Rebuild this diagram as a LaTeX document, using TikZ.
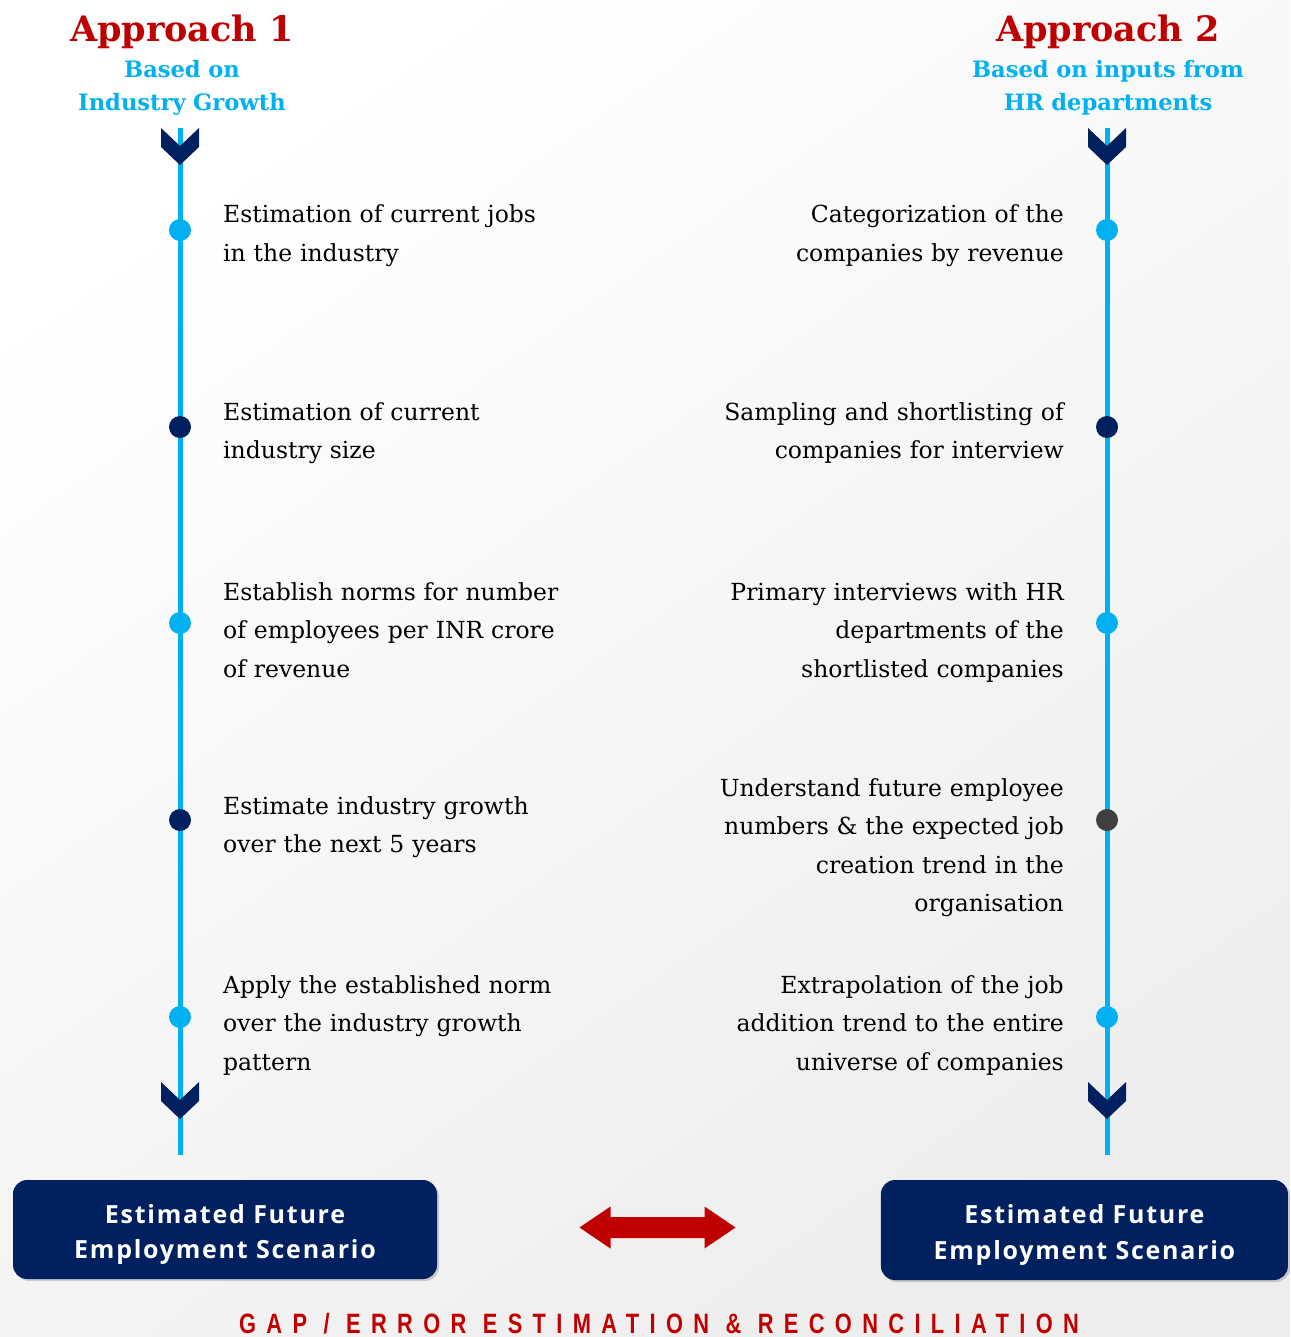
\documentclass[tikz,border=0pt]{standalone}
\usepackage{fontspec}
\setmainfont{DejaVu Serif}
\newfontfamily\boxfont[LetterSpace=7]{Open Sans}
\newfontfamily\gapfont[LetterSpace=37,FakeStretch=0.78]{Liberation Sans}
\usetikzlibrary{shadows}
\definecolor{skyblue}{HTML}{00B0F0}
\definecolor{navy}{HTML}{002060}
\definecolor{darkred}{HTML}{C00000}
\definecolor{slate}{HTML}{404040}

\begin{document}
\begin{tikzpicture}[x=1pt, y=-1pt,
	dotnode/.style={circle, inner sep=0pt, minimum size=22pt},
	stepleft/.style={anchor=base west, text width=360pt, align=left, inner sep=0pt, font=\fontsize{23.5}{38.5}\selectfont},
	stepright/.style={anchor=base east, text width=380pt, align=right, inner sep=0pt, font=\fontsize{23.5}{38.5}\selectfont},
	titlenode/.style={anchor=base, inner sep=0pt, text=darkred, font=\fontsize{35}{40}\selectfont\bfseries},
	subnode/.style={anchor=base, text width=340pt, align=center, inner sep=0pt, text=skyblue, font=\fontsize{22.6}{33}\selectfont\bfseries},
	resultbox/.style={rectangle, rounded corners=14pt, fill=navy, drop shadow={opacity=0.35, shadow xshift=2pt, shadow yshift=-2pt}},
	resulttext/.style={anchor=base, text width=400pt, align=center, inner sep=0pt, text=white, font=\boxfont\bfseries\fontsize{25}{35.5}\selectfont},
	chevron/.pic={\fill[navy] (-19,0) -- (0,18) -- (19,0) -- (19,19) -- (0,37) -- (-19,19) -- cycle;}]
		
		% page and background
		\useasboundingbox (0,0) rectangle (1290,1337);
		\shade[top color=white, bottom color=black!7, shading angle=35] (0,0) rectangle (1290,1337);
		
		% headings
		\node[titlenode]	(app1) at (182,42)	{Approach 1};
		\node[subnode]	(sub1) at (182,78)	{Based on\\Industry Growth};
		\node[titlenode]	(app2) at (1108,42)	{Approach 2};
		\node[subnode, font=\fontsize{22.6}{32.5}\selectfont\bfseries]	(sub2) at (1108,78)	{Based on inputs from\\HR departments};
		
		% time lines
		\coordinate	(ltop) at (180,128);
		\coordinate	(lbot) at (180,1155);
		\coordinate	(rtop) at (1107,128);
		\coordinate	(rbot) at (1107,1155);
		\draw[skyblue, line width=5pt] (ltop) -- (lbot);
		\draw[skyblue, line width=5pt] (rtop) -- (rbot);
		\pic at (ltop) {chevron};
		\pic at (180,1082) {chevron};
		\pic at (rtop) {chevron};
		\pic at (1107,1082) {chevron};
		
		% steps of approach 1
		\node[dotnode, fill=skyblue]	(l1) at (180,230)	{};
		\node[dotnode, fill=navy]	(l2) at (180,427)	{};
		\node[dotnode, fill=skyblue]	(l3) at (180,623)	{};
		\node[dotnode, fill=navy]	(l4) at (180,820)	{};
		\node[dotnode, fill=skyblue]	(l5) at (180,1017)	{};
		\node[stepleft]	(t1) at (223,223)	{Estimation of current jobs\\in the industry};
		\node[stepleft]	(t2) at (223,420)	{Estimation of current\\industry size};
		\node[stepleft]	(t3) at (223,600)	{Establish norms for number\\of employees per INR crore\\of revenue};
		\node[stepleft]	(t4) at (223,814)	{Estimate industry growth\\over the next 5 years};
		\node[stepleft]	(t5) at (223,993)	{Apply the established norm\\over the industry growth\\pattern};
		
		% steps of approach 2
		\node[dotnode, fill=skyblue]	(r1) at (1107,230)	{};
		\node[dotnode, fill=navy]	(r2) at (1107,427)	{};
		\node[dotnode, fill=skyblue]	(r3) at (1107,623)	{};
		\node[dotnode, fill=slate]	(r4) at (1107,820)	{};
		\node[dotnode, fill=skyblue]	(r5) at (1107,1017)	{};
		\node[stepright]	(s1) at (1064,223)	{Categorization of the\\companies by revenue};
		\node[stepright]	(s2) at (1064,420)	{Sampling and shortlisting of\\companies for interview};
		\node[stepright]	(s3) at (1064,600)	{Primary interviews with HR\\departments of the\\shortlisted companies};
		\node[stepright]	(s4) at (1064,796)	{Understand future employee\\numbers \& the expected job\\creation trend in the\\organisation};
		\node[stepright]	(s5) at (1064,993)	{Extrapolation of the job\\addition trend to the entire\\universe of companies};
		
		% results
		\node[resultbox, minimum width=424pt, minimum height=99pt]	(res1) at (225,1229.5)	{};
		\node[resultbox, minimum width=407pt, minimum height=100pt]	(res2) at (1084.4,1230)	{};
		\node[resulttext]	(res1txt) at (225,1223)	{Estimated Future\\Employment Scenario};
		\node[resulttext]	(res2txt) at (1084.4,1223.5)	{Estimated Future\\Employment Scenario};
		
		% reconciliation
		\coordinate	(gapmid) at (657.5,1227.5);
		\fill[darkred] ([xshift=-78pt]gapmid) -- ++(31,-21) -- ++(0,10.5) -- ++(94,0) -- ++(0,-10.5) -- ++(31,21) -- ++(-31,21) -- ++(0,-10.5) -- ++(-94,0) -- ++(0,10.5) -- cycle;
		\node[anchor=base, inner sep=0pt, text=darkred, font=\gapfont\bfseries\fontsize{28}{30}\selectfont]	(gap) at (659,1333)	{GAP / ERROR ESTIMATION \& RECONCILIATION};
		
		\end{tikzpicture}
\end{document}
